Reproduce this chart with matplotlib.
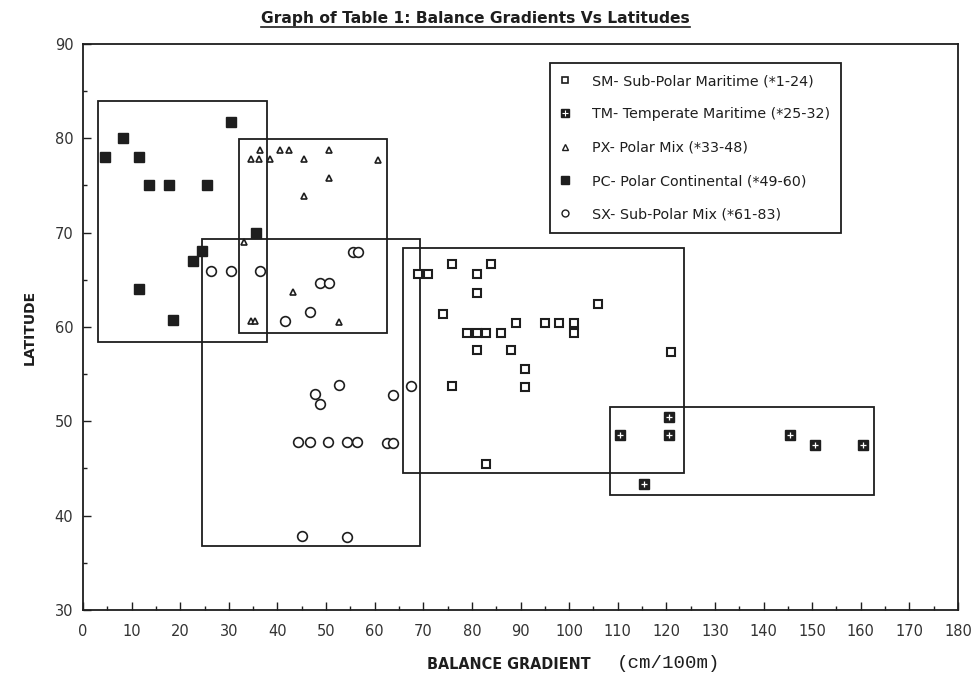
import numpy as np
import matplotlib
matplotlib.use('Agg')
import matplotlib.pyplot as plt
from matplotlib.patches import Rectangle
from matplotlib.lines import Line2D

# Данные
sm_x = [69, 71, 76, 84, 81, 81, 106, 74, 89, 95, 98, 101, 101, 79, 81, 83, 86, 81, 88, 121, 91, 76, 91, 83]
sm_y = [65.6, 65.6, 66.7, 66.7, 65.6, 63.6, 62.4, 61.4, 60.4, 60.4, 60.4, 60.4, 59.4, 59.4, 59.4, 59.4, 59.4,
        57.6, 57.6, 57.4, 55.5, 53.7, 53.6, 45.5]

tm_x = [110.5, 120.5, 120.5, 145.5, 150.5, 160.5, 115.5]
tm_y = [48.5, 50.5, 48.5, 48.5, 47.5, 47.5, 43.4]

px_x = [36.4, 40.6, 42.4, 50.6, 34.5, 36.3, 38.4, 45.5, 60.7, 50.6, 45.5, 33.2, 43.3, 34.5, 35.3, 52.6]
px_y = [78.8, 78.8, 78.8, 78.8, 77.8, 77.8, 77.8, 77.8, 77.7, 75.8, 73.9, 69.0, 63.7, 60.6, 60.6, 60.5]

pc_x = [4.5, 8.3, 11.6, 13.6, 17.7, 25.6, 30.4, 11.6, 18.5, 22.6, 24.5, 35.6]
pc_y = [78, 80, 78, 75, 75, 75, 81.7, 64, 60.7, 67, 68.1, 70]

sx_x = [26.3, 30.5, 36.4, 55.6, 56.6, 48.8, 50.6, 46.8, 41.6, 52.7, 47.7, 48.7, 63.7, 67.5,
        44.3, 46.6, 50.5, 54.4, 56.4, 62.6, 63.7, 45.1, 54.3]
sx_y = [65.9, 65.9, 65.9, 67.9, 67.9, 64.7, 64.7, 61.6, 60.6, 53.8, 52.9, 51.8, 52.8, 53.7,
        47.8, 47.8, 47.8, 47.8, 47.8, 47.7, 47.7, 37.8, 37.7]

# Рамки групп: x0, x1, y0, y1
boxes = [
    (3.0, 37.8, 58.4, 84.0),    # PC
    (32.0, 62.5, 59.4, 79.9),   # PX
    (24.4, 69.3, 36.8, 69.3),   # SX
    (65.9, 123.6, 44.5, 68.4),  # SM
    (108.4, 162.7, 42.2, 51.5), # TM
]

legend_labels = [
    'SM- Sub-Polar Maritime (*1-24)',
    'TM- Temperate Maritime (*25-32)',
    'PX- Polar Mix (*33-48)',
    'PC- Polar Continental (*49-60)',
    'SX- Sub-Polar Mix (*61-83)',
]

ink = '#1e1e1e'

fig = plt.figure(figsize=(9.74, 6.82), dpi=100)
ax = fig.add_axes([0.0852, 0.1056, 0.8984, 0.8299])

for x0, x1, y0, y1 in boxes:
    ax.add_patch(Rectangle((x0, y0), x1 - x0, y1 - y0, fill=False, edgecolor=ink, linewidth=1.3))

ax.plot(sm_x, sm_y, 's', ms=6, mfc='white', mec=ink, mew=1.5, ls='none')
ax.plot(tm_x, tm_y, 's', ms=6.5, mfc=ink, mec=ink, mew=1.0, ls='none')
ax.plot(tm_x, tm_y, '+', ms=5, mec='white', mew=0.9, ls='none')
ax.plot(px_x, px_y, '^', ms=5, mfc='white', mec=ink, mew=1.2, ls='none')
ax.plot(pc_x, pc_y, 's', ms=7, mfc=ink, mec=ink, ls='none')
ax.plot(sx_x, sx_y, 'o', ms=7, mfc='white', mec=ink, mew=1.2, ls='none')

ax.set_xlim(0, 180)
ax.set_ylim(30, 90)
ax.set_xticks(np.arange(0, 181, 10))
ax.set_yticks(np.arange(30, 91, 10))
ax.set_xticks(np.arange(5, 180, 10), minor=True)
ax.set_yticks(np.arange(35, 90, 10), minor=True)
ax.tick_params(which='major', direction='in', length=6, width=1.0, colors=ink,
               labelsize=10.5, labelcolor='#333333')
ax.tick_params(axis='x', which='major', pad=10)
ax.tick_params(axis='y', which='major', pad=7)
ax.tick_params(which='minor', direction='in', length=3, width=1.0, colors=ink)
for s in ax.spines.values():
    s.set_linewidth(1.3)
    s.set_color(ink)

# Легенда
h_sm = Line2D([], [], marker='s', ls='none', ms=5, mfc='white', mec=ink, mew=1.2)
h_tm = (Line2D([], [], marker='s', ls='none', ms=5.5, mfc=ink, mec=ink),
        Line2D([], [], marker='+', ls='none', ms=4, mec='white', mew=0.8))
h_px = Line2D([], [], marker='^', ls='none', ms=4.5, mfc='white', mec=ink, mew=1.0)
h_pc = Line2D([], [], marker='s', ls='none', ms=5.5, mfc=ink, mec=ink)
h_sx = Line2D([], [], marker='o', ls='none', ms=5, mfc='white', mec=ink, mew=1.0)
leg = ax.legend([h_sm, h_tm, h_px, h_pc, h_sx], legend_labels,
                loc='upper left', bbox_to_anchor=(0.534, 0.967), borderaxespad=0,
                fontsize=10.3, labelspacing=1.35, handlelength=0.5, handletextpad=1.6,
                borderpad=0.8, fancybox=False, framealpha=1, edgecolor=ink)
leg.get_frame().set_linewidth(1.3)
for t in leg.get_texts():
    t.set_color(ink)

ax.set_ylabel('LATITUDE', fontsize=10, fontweight='bold', color=ink, labelpad=13)
fig.text(0.606, 0.025, 'BALANCE GRADIENT', ha='right', va='center', fontsize=11.5,
         fontweight='bold', color=ink, fontstretch='condensed')
fig.text(0.633, 0.027, '(cm/100m)', ha='left', va='center', fontsize=13.8,
         family='Liberation Mono', color=ink)

title = fig.text(0.488, 0.973, 'Graph of Table 1: Balance Gradients Vs Latitudes',
                 ha='center', va='center', fontsize=11.2, fontweight='bold', color=ink)

# Подчёркивание заголовка
fig.canvas.draw()
bb = title.get_window_extent(fig.canvas.get_renderer())
W, H = fig.bbox.width, fig.bbox.height
fig.add_artist(Line2D([bb.x0 / W, bb.x1 / W], [(bb.y0 - 1) / H] * 2,
                      transform=fig.transFigure, color=ink, lw=1.2))

fig.savefig('out.png', dpi=100, facecolor='white')
